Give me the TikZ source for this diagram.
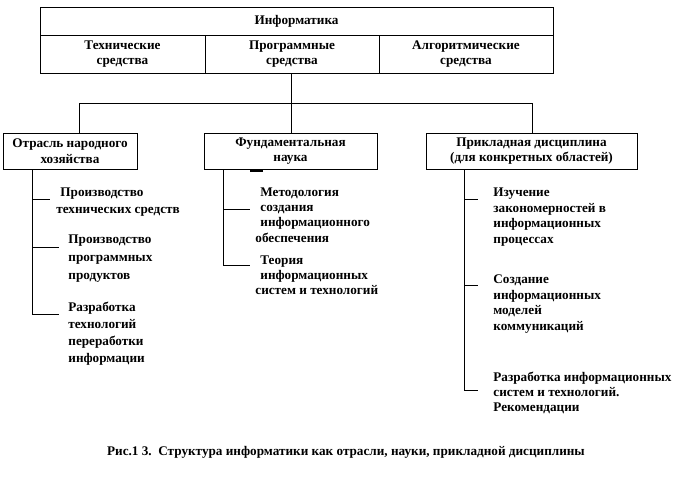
\documentclass[tikz,border=0pt]{standalone}
\usepackage{fontspec}
\setmainfont{Liberation Serif}
\begin{document}
\begin{tikzpicture}[x=1pt,y=-1pt,line width=0.8pt,
  txt/.style={font=\bfseries\fontsize{13.2}{15.5}\selectfont},
  cell/.style={txt,draw,align=center,inner sep=0pt},
  item/.style={txt,anchor=base west,align=left,inner sep=0pt},
  conn/.style={line width=0.8pt}]
\useasboundingbox (0,0) rectangle (694,482);
% top table
\node[cell,minimum width=513pt,minimum height=28pt] (inf) at (296.5,21) {Информатика};
\node[cell,minimum width=165pt,minimum height=38pt] (tech) at (122.5,54) {Технические\\средства};
\node[cell,minimum width=174pt,minimum height=38pt] (prog) at (292,54) {Программные\\средства};
\node[cell,minimum width=174pt,minimum height=38pt] (alg) at (466,54) {Алгоритмические\\средства};
% second level boxes
\node[cell,minimum width=134pt,minimum height=36pt] (b1) at (70,151) {Отрасль народного\\хозяйства};
\node[cell,minimum width=173pt,minimum height=36pt] (b2) at (290.5,151) {Фундаментальная\\наука};
\node[cell,minimum width=211pt,minimum height=36pt] (b3) at (531.5,151) {Прикладная дисциплина\\(для конкретных областей)};
% connectors top
\coordinate (j) at (291,103);
\coordinate (jl) at (79,103);
\coordinate (jr) at (532,103);
\draw[conn] (j |- prog.south) -- (j);
\draw[conn] (b1.north -| jl) -- (jl) -- (jr) -- (b3.north -| jr);
\draw[conn] (j) -- (b2.north -| j);
\draw[line width=2pt] (250,171) -- (263,171);
% items of b1
\node[item,font=\bfseries\fontsize{13.2}{17}\selectfont] (i11) at (56,213) {\hspace*{4pt}Производство\\технических средств};
\node[item,font=\bfseries\fontsize{13.2}{18}\selectfont] (i12) at (68,279) {Производство\\программных\\продуктов};
\node[item,font=\bfseries\fontsize{13.2}{16.7}\selectfont] (i13) at (68,362) {Разработка\\технологий\\переработки\\информации};
\coordinate (v1) at (32,169);
\coordinate (a1) at (50,199);
\coordinate (a2) at (59,247);
\coordinate (a3) at (59,314);
\draw[conn] (b1.south -| v1) |- (a3);
\draw[conn] (v1 |- a1) -- (a1);
\draw[conn] (v1 |- a2) -- (a2);
% items of b2
\node[item,font=\bfseries\fontsize{13.2}{15.3}\selectfont] (i21) at (255,242) {\hspace*{5pt}Методология\\\hspace*{5pt}создания\\\hspace*{5pt}информационного\\обеспечения};
\node[item,font=\bfseries\fontsize{13.2}{15}\selectfont] (i22) at (255,294) {\hspace*{5pt}Теория\\\hspace*{5pt}информационных\\систем и технологий};
\coordinate (v2) at (223,169);
\coordinate (c1) at (250,209);
\coordinate (c2) at (250,265);
\draw[conn] (b2.south -| v2) |- (c2);
\draw[conn] (v2 |- c1) -- (c1);
% items of b3
\node[item] (i31) at (493,243) {Изучение\\закономерностей в\\информационных\\процессах};
\node[item] (i32) at (493,330) {Создание\\информационных\\моделей\\коммуникаций};
\node[item,font=\bfseries\fontsize{13.2}{15}\selectfont] (i33) at (493,411) {Разработка информационных\\систем и технологий.\\Рекомендации};
\coordinate (v3) at (464,169);
\coordinate (d1) at (478,199);
\coordinate (d2) at (478,285);
\coordinate (d3) at (478,390);
\draw[conn] (b3.south -| v3) |- (d3);
\draw[conn] (v3 |- d1) -- (d1);
\draw[conn] (v3 |- d2) -- (d2);
% caption
\node[txt] (cap) at (346,452) {Рис.1 3.\ \ Структура информатики как отрасли, науки, прикладной дисциплины};
\end{tikzpicture}
\end{document}
